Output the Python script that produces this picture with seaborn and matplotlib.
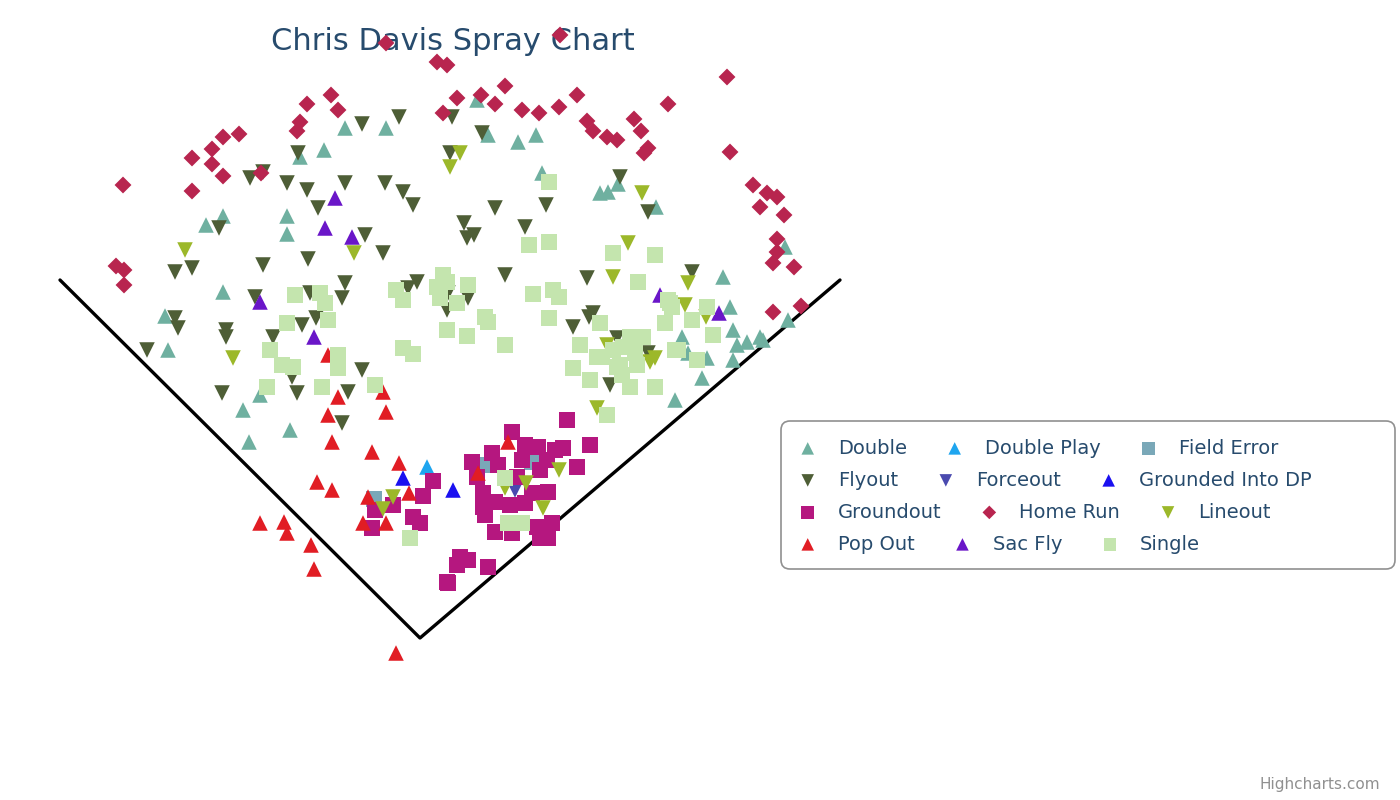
import matplotlib
matplotlib.use("Agg")
import matplotlib.pyplot as plt
from matplotlib.patches import FancyBboxPatch
import seaborn as sns

# Spray chart hit locations (x, y) for each batted ball result, y grows downward
double = [(345, 128), (324, 150), (300, 157), (386, 128), (477, 100), (488, 135), (518, 142),
          (536, 135), (542, 173), (600, 193), (608, 192), (618, 184), (656, 207), (785, 247),
          (723, 277), (730, 307), (733, 330), (788, 320), (206, 225), (223, 216), (287, 216),
          (287, 234), (223, 292), (165, 316), (168, 350), (682, 337), (737, 345), (747, 342),
          (760, 337), (763, 340), (733, 360), (707, 358), (688, 353), (702, 378), (675, 400),
          (243, 410), (260, 395), (290, 430), (249, 442)]
double_play = [(427, 467)]
field_error = [(374, 499), (488, 465), (532, 462)]
flyout = [(362, 124), (399, 117), (452, 117), (482, 133), (450, 153), (385, 183), (403, 192),
          (413, 205), (250, 178), (263, 172), (287, 183), (307, 190), (345, 183), (298, 153),
          (620, 177), (648, 212), (692, 272), (318, 208), (219, 228), (175, 272), (192, 268),
          (263, 265), (308, 259), (345, 283), (342, 298), (310, 293), (255, 297), (175, 318),
          (178, 328), (147, 350), (226, 330), (226, 337), (302, 325), (273, 337), (316, 318),
          (292, 377), (362, 370), (297, 393), (348, 392), (342, 423), (222, 393), (495, 208),
          (546, 205), (464, 223), (467, 238), (474, 235), (525, 227), (365, 235), (383, 253),
          (417, 282), (408, 288), (448, 293), (447, 310), (468, 298), (505, 275), (587, 278),
          (593, 313), (589, 317), (573, 327), (617, 338), (610, 385), (648, 353)]
forceout = [(515, 490)]
grounded_dp = [(403, 478), (453, 490)]
groundout = [(433, 481), (423, 496), (413, 517), (420, 523), (372, 528), (375, 510), (393, 505),
             (457, 565), (448, 583), (567, 420), (590, 445), (512, 432), (525, 445), (538, 447),
             (492, 453), (472, 462), (555, 450), (563, 448), (577, 467), (547, 460), (522, 460),
             (498, 465), (477, 477), (517, 477), (540, 470), (548, 492), (532, 493), (483, 493),
             (483, 507), (495, 502), (510, 505), (525, 503), (485, 515), (495, 532), (512, 533),
             (537, 527), (552, 523), (548, 538), (540, 538), (460, 557), (468, 560), (488, 567),
             (447, 582)]
home_run = [(386, 43), (560, 35), (437, 62), (447, 65), (123, 185), (192, 158), (192, 191),
            (212, 149), (212, 164), (223, 137), (239, 134), (223, 176), (261, 173), (297, 131),
            (300, 122), (307, 104), (331, 95), (338, 110), (457, 98), (443, 113), (481, 95),
            (495, 104), (505, 86), (522, 110), (539, 113), (559, 107), (577, 95), (587, 121),
            (593, 131), (607, 137), (617, 140), (727, 77), (668, 104), (634, 119), (641, 131),
            (644, 153), (648, 148), (730, 152), (753, 185), (767, 193), (777, 197), (760, 207),
            (784, 215), (777, 239), (777, 252), (773, 263), (794, 267), (773, 312), (801, 306),
            (116, 266), (124, 270), (124, 285)]
lineout = [(460, 153), (450, 167), (642, 193), (628, 243), (613, 277), (688, 283), (685, 305),
           (706, 317), (185, 250), (233, 358), (354, 253), (607, 345), (655, 358), (650, 362),
           (597, 408), (393, 497), (383, 509), (559, 470), (526, 483), (543, 508), (505, 488)]
pop_out = [(338, 397), (328, 415), (386, 412), (383, 392), (332, 442), (372, 452), (399, 463),
           (409, 493), (368, 497), (317, 482), (332, 490), (260, 523), (284, 522), (287, 533),
           (311, 545), (314, 569), (363, 523), (386, 523), (396, 653), (508, 442), (478, 473),
           (328, 355)]
sac_fly = [(335, 198), (325, 228), (352, 237), (260, 302), (314, 337), (660, 295), (719, 313)]
single = [(549, 182), (613, 253), (655, 255), (638, 282), (668, 300), (672, 307), (707, 307),
          (665, 323), (692, 320), (713, 335), (295, 295), (320, 293), (325, 303), (328, 320),
          (287, 323), (270, 350), (282, 365), (293, 367), (338, 355), (338, 368), (267, 387),
          (322, 387), (375, 385), (443, 275), (447, 282), (437, 287), (440, 298), (468, 285),
          (457, 303), (396, 290), (403, 300), (485, 317), (488, 322), (447, 330), (467, 336),
          (505, 345), (403, 348), (413, 354), (529, 245), (549, 242), (533, 294), (553, 290),
          (559, 297), (549, 318), (600, 323), (580, 345), (597, 357), (573, 368), (590, 380),
          (613, 350), (620, 365), (630, 337), (643, 337), (635, 353), (637, 365), (630, 387),
          (655, 387), (670, 303), (675, 350), (607, 415), (622, 375), (678, 350), (697, 360),
          (623, 347), (617, 367), (602, 357), (410, 538), (505, 478), (508, 523), (522, 523)]

# Foul lines
field_x = [60, 420, 840]
field_y = [280, 638, 280]

# Series in drawing order: name, points, marker, color, size
series = [
    ("Double", double, "^", "#6fb0a0", 125),
    ("Double Play", double_play, "^", "#1ea5ef", 125),
    ("Field Error", field_error, "s", "#7aa8b8", 130),
    ("Flyout", flyout, "v", "#4e5e36", 125),
    ("Forceout", forceout, "v", "#4a4aaf", 125),
    ("Grounded Into DP", grounded_dp, "^", "#1a10f0", 125),
    ("Groundout", groundout, "s", "#b5177f", 130),
    ("Home Run", home_run, "D", "#b8254f", 74),
    ("Lineout", lineout, "v", "#9cb82a", 125),
    ("Pop Out", pop_out, "^", "#e11d24", 125),
    ("Sac Fly", sac_fly, "^", "#6a16c8", 125),
    ("Single", single, "s", "#c4e5ae", 130),
]

sns.set_style("white")
fig = plt.figure(figsize=(14, 8), dpi=100)
ax = fig.add_axes([0, 0, 1, 1])

# Foul lines
ax.plot(field_x, field_y, color="black", linewidth=2.4, zorder=1)

for name, pts, marker, color, size in series:
    xs = [p[0] for p in pts]
    ys = [p[1] for p in pts]
    sns.scatterplot(x=xs, y=ys, marker=marker, color=color, s=size, linewidth=0,
                    edgecolor="none", label=name, ax=ax, zorder=2)

ax.set_xlim(0, 1400)
ax.set_ylim(800, 0)
ax.axis("off")

# Title and credits
ax.text(453, 41, "Chris Davis Spray Chart", ha="center", va="center",
        fontsize=22, color="#274b6d", zorder=0)
ax.text(1380, 784, "Highcharts.com", ha="right", va="center", fontsize=11, color="#909090")

# Legend box with rows flowing left to right
box = FancyBboxPatch((781, 421), 614, 148, boxstyle="round,pad=0,rounding_size=9",
                     fill=False, edgecolor="#909090", linewidth=1.2, zorder=3)
ax.add_patch(box)

handles, labels = ax.get_legend_handles_labels()
row_y = [448, 480, 512, 544]
legends = []
for i, y in enumerate(row_y):
    leg = ax.legend(handles=handles[i * 3:i * 3 + 3], labels=labels[i * 3:i * 3 + 3],
                    loc="center left", bbox_to_anchor=(798, y), bbox_transform=ax.transData,
                    ncol=3, frameon=False, fontsize=14, handlelength=1.0, handletextpad=1.05,
                    columnspacing=1.96, borderpad=0, borderaxespad=0, labelcolor="#274b6d")
    # smaller symbols in the legend than on the field
    for h in leg.legend_handles:
        h.set_sizes([s * 0.65 for s in h.get_sizes()])
    legends.append(leg)
for leg in legends[:-1]:
    ax.add_artist(leg)

plt.savefig("out.png", dpi=100)
